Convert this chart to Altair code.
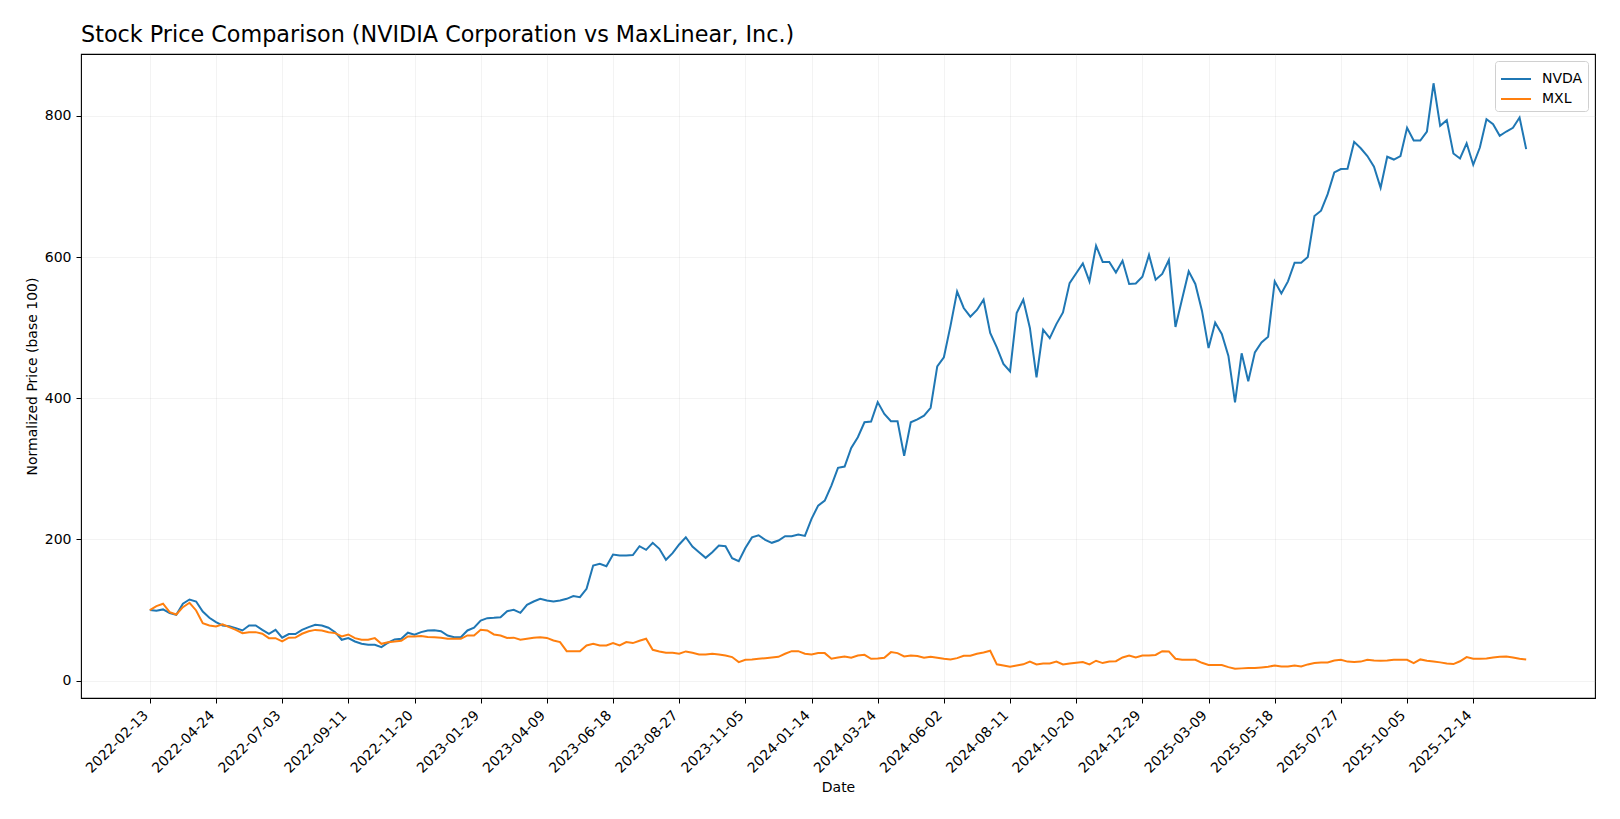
import altair as alt
import pandas as pd

START = "2022-02-13"
TICKERS = ["NVDA", "MXL"]
COLORS = ["#1f77b4", "#ff7f0e"]
TITLE = "Stock Price Comparison (NVIDIA Corporation vs MaxLinear, Inc.)"

NVDA = [
    100, 99, 101, 95.7, 93.3, 109, 115, 112.2, 98, 89.1,
    83, 78.3, 77.3, 74.5, 71.2, 78.3, 78.3, 72.1, 66.5, 72.1,
    60.9, 66, 66, 72.1, 75.9, 79.2, 78.3, 75, 68.8, 58,
    60.3, 55.6, 52.3, 51, 51, 47.6, 53.8, 58.5, 59.4, 68,
    65.1, 68.8, 71.2, 71.6, 70.2, 64, 61.7, 61.7, 71.2, 75,
    85.3, 88.6, 89.1, 90, 98.5, 100.4, 96.2, 107.5, 112.2, 116,
    113.6, 112.2, 113.6, 116, 119.8, 118.3, 130.2, 163.2, 165.5, 162.2,
    178.7, 177.3, 177.3, 178, 190.5, 185.3, 195.3, 186.8, 171.2, 180.6,
    192.9, 203.2, 190, 182, 174, 182, 191.5, 190.5, 173.5, 169.3,
    188, 203, 206, 199.5, 195.3, 198.6, 204.6, 204.6, 207, 205,
    229.2, 248, 255, 276.4, 301.4, 303.3, 329.7, 344.8, 366, 367,
    394.5, 377.8, 367.4, 367.4, 318.4, 366, 370, 375.4, 386.5, 445,
    458, 502.5, 551, 527.8, 515.5, 525, 539.5, 492.4, 472, 448.5,
    438, 520.7, 539.5, 499.5, 429.6, 497, 485, 505, 521.6, 563,
    577, 591, 565.5, 616, 593, 593, 578, 594.7, 561.8, 562.5,
    572, 603, 567.8, 576, 595.7, 501, 540.5, 579.6, 561.8, 524,
    471, 507, 491, 460, 394, 463.6, 424, 465, 479, 487,
    565.5, 548.5, 565.5, 592, 592, 600, 658, 665.5, 689, 719.7,
    724.5, 725, 763, 754, 743, 728, 698, 742, 738, 743,
    783, 765, 765, 777.7, 846, 785.8, 793.8, 746.6, 739.5, 761,
    730.6, 755, 795, 788, 771.6, 777.7, 783, 797.5, 752.8,
]

MXL = [
    100, 105.6, 109, 97, 93.8, 104.2, 110.4, 99.5, 81.5, 78.3,
    76.8, 80, 75.9, 72.1, 67.4, 68.8, 68.8, 66.5, 60.3, 60.3,
    55.6, 60.9, 61.2, 66.5, 70, 72, 71.2, 68.8, 67.4, 62.7,
    65.5, 60.3, 58, 58, 60.3, 52.3, 54.6, 55.6, 56.6, 62.7,
    62.7, 63.2, 62, 61.5, 61, 59.4, 59.4, 59.4, 64.1, 64.1,
    72.2, 71.2, 65.5, 64.1, 60.6, 61, 58, 59.4, 61, 61.7,
    60.6, 57, 54.7, 41.9, 41.9, 41.9, 50, 52.3, 50, 50,
    53.3, 50, 54.7, 53.3, 56.6, 59.4, 43.8, 41.5, 39.6, 39.6,
    38.2, 41.5, 39.6, 37.3, 37.3, 38.2, 37.3, 35.8, 33.5, 26.4,
    29.7, 30.2, 31.1, 32, 33, 33.9, 38.2, 41.9, 41.9, 38.2,
    37.3, 39.1, 39.1, 31.1, 33, 34.4, 32.5, 35.8, 36.7, 31.1,
    31.6, 32.5, 40.5, 39.1, 34.4, 35.8, 34.9, 32.5, 33.9, 32.5,
    31.1, 30.2, 32, 35.4, 35.4, 38.2, 40, 42.4, 23.2, 21.7,
    19.8, 21.7, 23.2, 27.1, 23.1, 24.5, 24.5, 27.1, 23.1, 24.5,
    25.4, 26.4, 23.1, 28.3, 25, 27.1, 27.6, 33, 35.8, 33,
    35.8, 35.8, 36.5, 41.9, 41.5, 31.1, 29.7, 29.7, 29.7, 25.4,
    22.2, 22.2, 22.2, 19.3, 17, 17.5, 17.9, 17.9, 18.8, 19.8,
    21.7, 20.2, 20.2, 21.7, 20.2, 23.1, 25, 25.9, 25.9, 28.7,
    29.7, 27.1, 26.6, 27.1, 29.7, 28.7, 28.2, 28.7, 29.7, 29.7,
    29.7, 25, 30.2, 28.2, 27.1, 26, 24.5, 23.6, 27.6, 33.4,
    31.1, 31.1, 31.6, 33, 33.9, 34.4, 33, 31.1, 30.2,
]

TICK_LABELS = [
    "2022-02-13", "2022-04-24", "2022-07-03", "2022-09-11", "2022-11-20",
    "2023-01-29", "2023-04-09", "2023-06-18", "2023-08-27", "2023-11-05",
    "2024-01-14", "2024-03-24", "2024-06-02", "2024-08-11", "2024-10-20",
    "2024-12-29", "2025-03-09", "2025-05-18", "2025-07-27", "2025-10-05",
    "2025-12-14",
]
Y_TICKS = [0, 200, 400, 600, 800]

dates = pd.date_range(START, periods=len(NVDA), freq="7D", tz="UTC")
date_str = list(dates.strftime("%Y-%m-%d"))
df = pd.DataFrame({
    "date": date_str + date_str,
    "price": NVDA + MXL,
    "ticker": ["NVDA"] * len(NVDA) + ["MXL"] * len(MXL),
})

def ms(ts):
    return int(ts.timestamp() * 1000)

span = dates[-1] - dates[0]
x_domain = [ms(dates[0] - span * 0.05), ms(dates[-1] + span * 0.05)]
tick_values = [ms(pd.Timestamp(t, tz="UTC")) for t in TICK_LABELS]

lo, hi = min(NVDA + MXL), max(NVDA + MXL)
pad = (hi - lo) * 0.05
y_domain = [lo - pad, hi + pad]

FONT = "DejaVu Sans"

chart = alt.Chart(df).mark_line(strokeWidth=2, clip=True).encode(
    x=alt.X(
        "date:T",
        scale=alt.Scale(type="utc", domain=x_domain, nice=False),
        axis=alt.Axis(
            title="Date", values=tick_values,
            labelExpr="utcFormat(datum.value, '%Y-%m-%d')",
            labelAngle=-45, labelAlign="right", labelBaseline="top",
            labelOffset=-9, labelPadding=5, tickSize=5, titlePadding=5,
            grid=True, domain=False, labelOverlap=False,
        ),
    ),
    y=alt.Y(
        "price:Q",
        scale=alt.Scale(domain=y_domain, nice=False, zero=False),
        axis=alt.Axis(
            title="Normalized Price (base 100)", values=Y_TICKS,
            tickSize=5, labelPadding=5, titlePadding=5, grid=True, domain=False,
        ),
    ),
    color=alt.Color(
        "ticker:N",
        scale=alt.Scale(domain=TICKERS, range=COLORS),
        sort=TICKERS,
        legend=alt.Legend(
            title=None, orient="top-right", offset=7, padding=5,
            strokeColor="#d0d0d0", fillColor="white", cornerRadius=3,
            symbolType="M-1,0H1.5", symbolSize=576, symbolStrokeWidth=2,
            labelFontSize=14, labelFont=FONT, labelColor="black",
            rowPadding=0, labelOffset=16,
        ),
    ),
).properties(
    width=1514,
    height=644,
    title=alt.TitleParams(
        TITLE, anchor="start", frame="group", fontSize=22.3, font=FONT,
        fontWeight="normal", offset=7, baseline="bottom", dy=22, color="black",
    ),
    autosize=alt.AutoSizeParams(type="none"),
    padding={"left": 73, "top": 46, "right": 10, "bottom": 100},
).configure_axis(
    labelFont=FONT, labelFontSize=14, labelColor="black",
    titleFont=FONT, titleFontSize=14, titleFontWeight="normal", titleColor="black",
    tickColor="black", gridColor="#b0b0b0", gridOpacity=0.15,
).configure_view(
    stroke="black", strokeWidth=1.1,
)

chart.save("out.html", embed_options={"renderer": "svg", "actions": False})
